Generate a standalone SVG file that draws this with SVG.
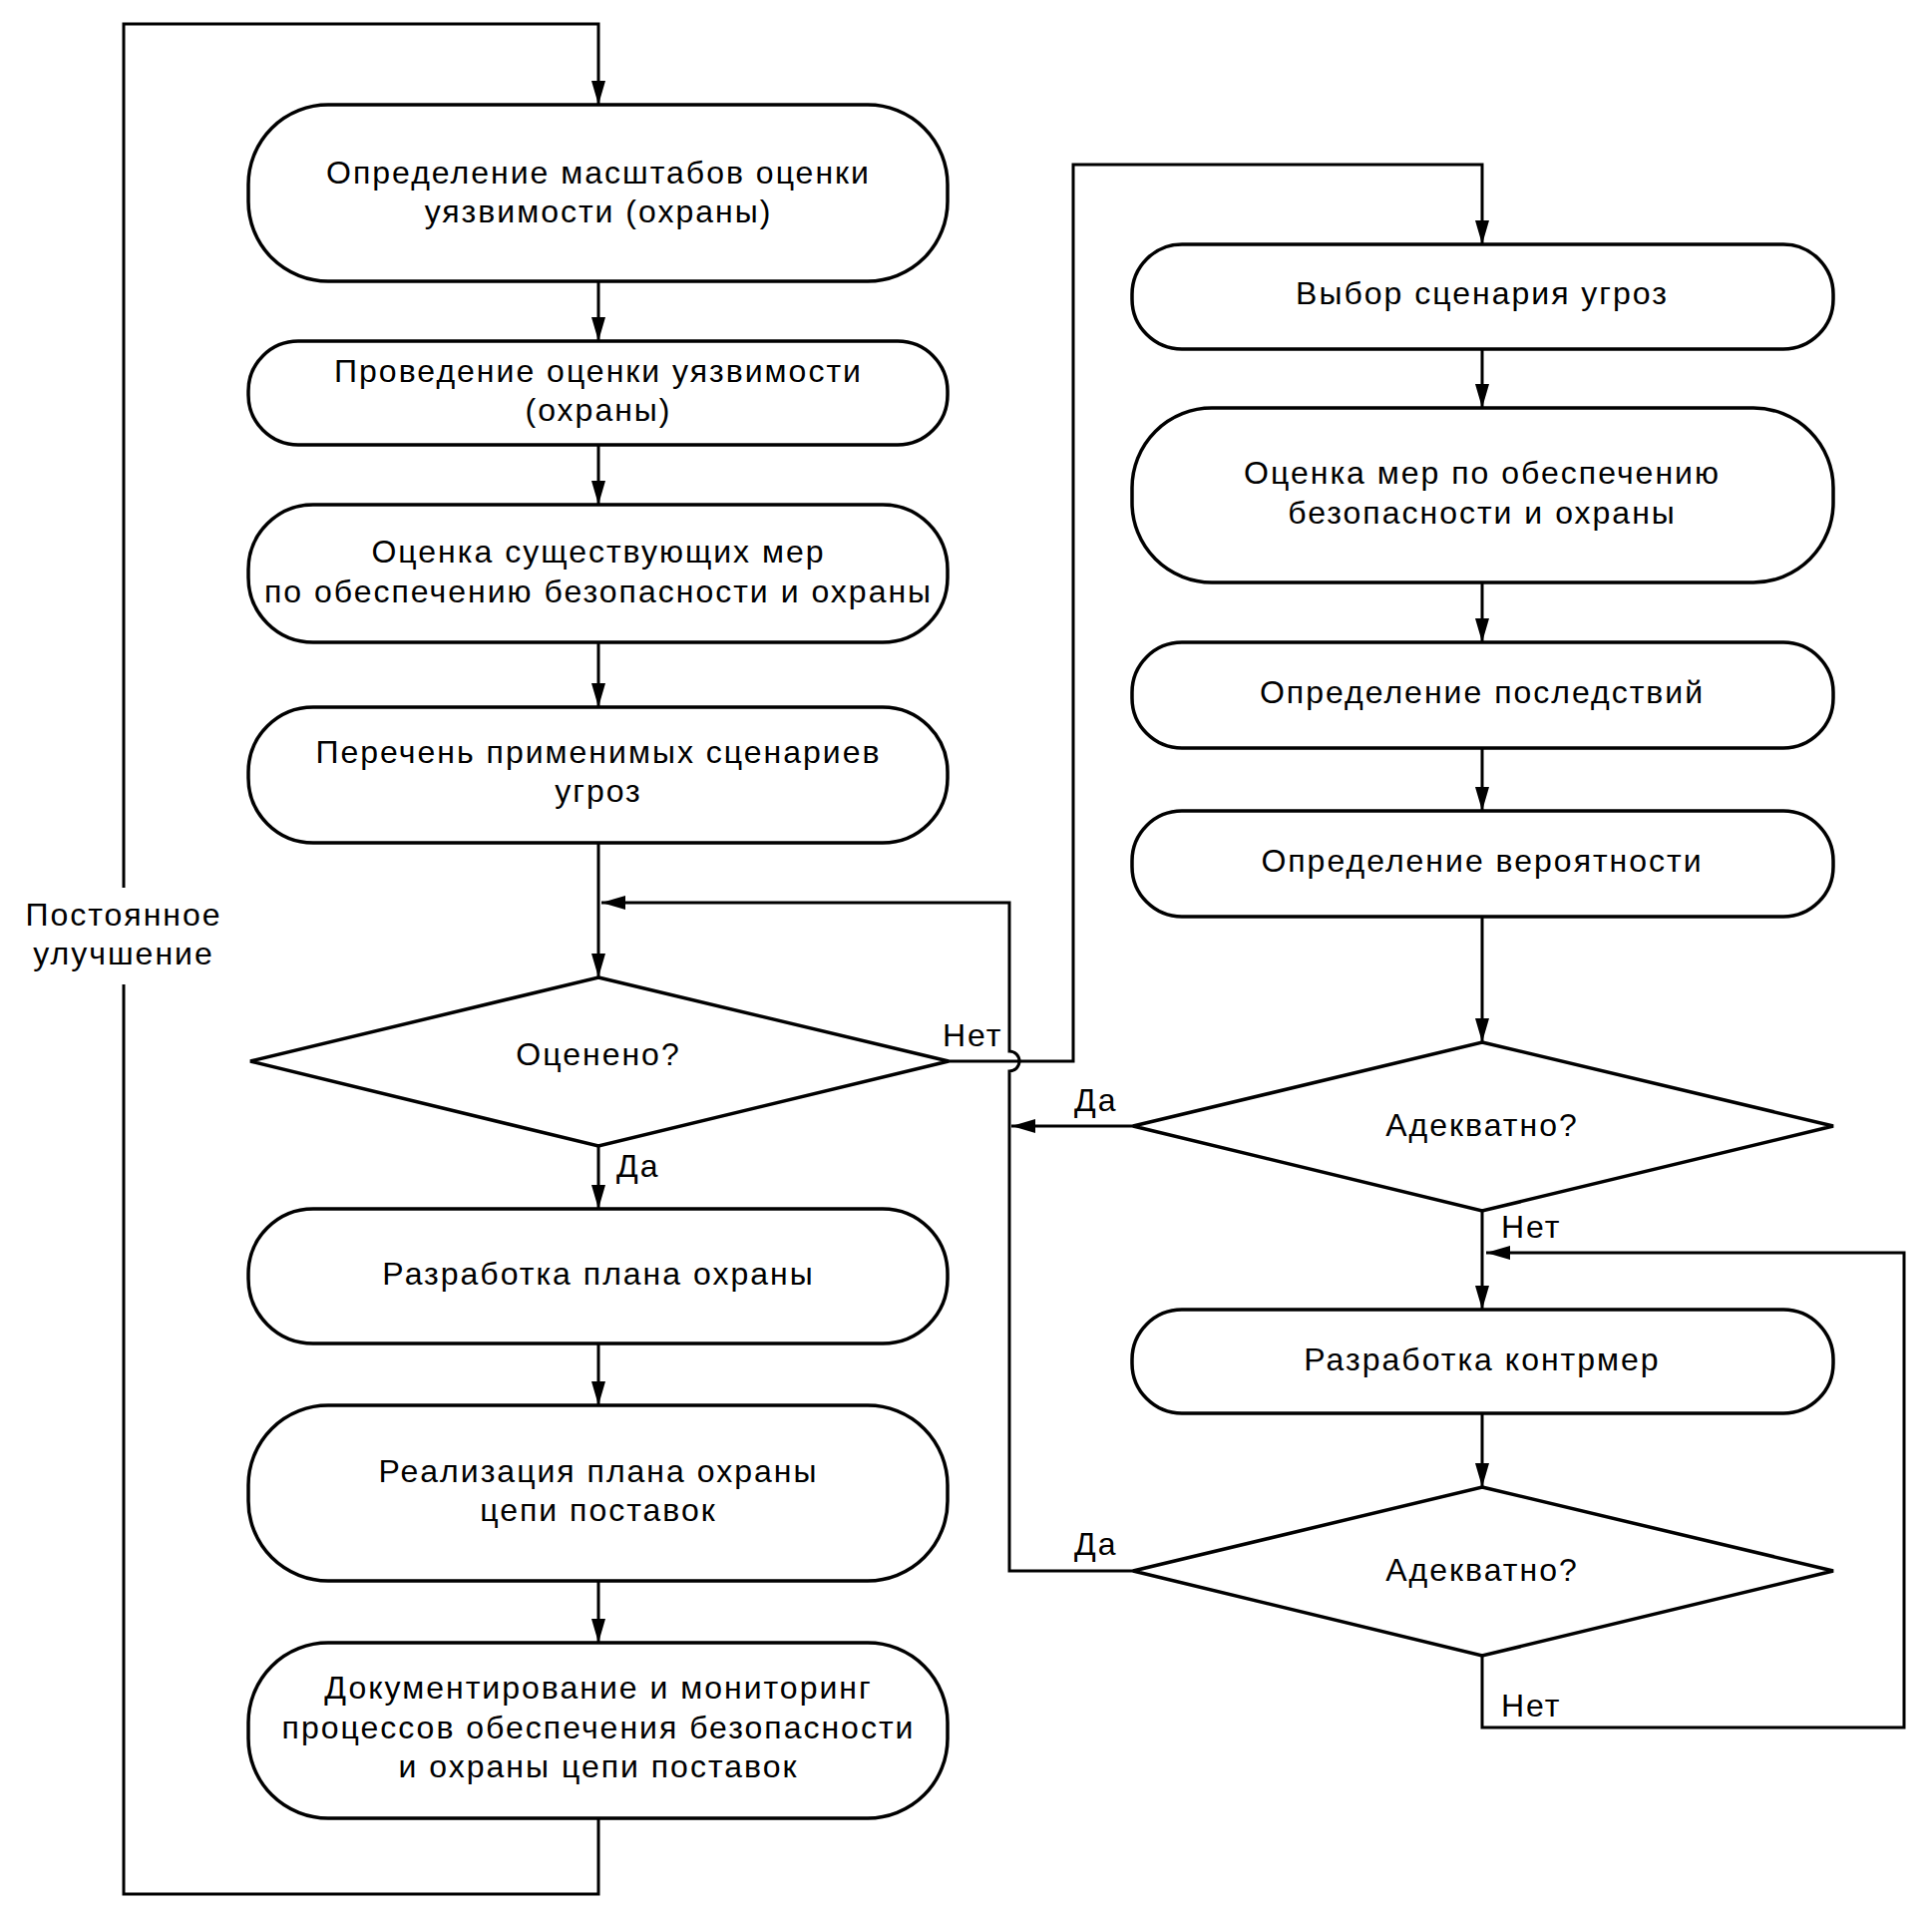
<svg xmlns="http://www.w3.org/2000/svg" width="1937" height="1920" viewBox="0 0 1937 1920">
<defs>
<marker id="arr" viewBox="0 0 24 14" refX="24" refY="7" markerWidth="24" markerHeight="14" markerUnits="userSpaceOnUse" orient="auto">
<path d="M0,0 L24,7 L0,14 z" fill="#000"/>
</marker>
<style>
.box{fill:#fff;stroke:#000;stroke-width:3.5}
.ln{fill:none;stroke:#000;stroke-width:3}
.ar{marker-end:url(#arr)}
text{font-family:"Liberation Sans",Arial,sans-serif;font-size:32px;fill:#000;letter-spacing:2px}
.c{text-anchor:middle}
</style>
</defs>
<rect width="1937" height="1920" fill="#fff"/>
<g id="connectors">
<path class="ln" d="M600,1823 V1899 H124 V987"/>
<path class="ln ar" d="M124,890 V24 H600 V105"/>
<path class="ln ar" d="M600,282 V342"/>
<path class="ln ar" d="M600,446 V506"/>
<path class="ln ar" d="M600,644 V709"/>
<path class="ln ar" d="M600,845 V980"/>
<path class="ln ar" d="M600,1149 V1212"/>
<path class="ln ar" d="M600,1347 V1409"/>
<path class="ln ar" d="M600,1585 V1647"/>
<path class="ln ar" d="M951,1064 H1076 V165 H1486 V245"/>
<path class="ln ar" d="M1486,350 V409"/>
<path class="ln ar" d="M1486,584 V644"/>
<path class="ln ar" d="M1486,750 V813"/>
<path class="ln ar" d="M1486,919 V1045"/>
<path class="ln ar" d="M1136,1129 H1014"/>
<path class="ln ar" d="M1486,1214 V1313"/>
<path class="ln ar" d="M1486,1417 V1491"/>
<path class="ln ar" d="M1136,1575 H1012 V1074 A10,10 0 0 0 1012,1054 V905 H603"/>
<path class="ln ar" d="M1486,1660 V1732 H1909 V1256 H1490"/>
<text x="945" y="1049">Нет</text>
<text x="618" y="1180">Да</text>
<text x="1077" y="1114">Да</text>
<text x="1505" y="1241">Нет</text>
<text x="1077" y="1559">Да</text>
<text x="1505" y="1721">Нет</text>
<text class="c" x="124" y="928">Постоянное</text>
<text class="c" x="124" y="967">улучшение</text>
</g>
<g id="n1"><rect class="box" x="249" y="105" width="701" height="177" rx="80" ry="80"/>
<text class="c" x="600" y="184">Определение масштабов оценки</text><text class="c" x="600" y="223">уязвимости (охраны)</text></g>
<g id="n2"><rect class="box" x="249" y="342" width="701" height="104" rx="50" ry="50"/>
<text class="c" x="600" y="383">Проведение оценки уязвимости</text><text class="c" x="600" y="422">(охраны)</text></g>
<g id="n3"><rect class="box" x="249" y="506" width="701" height="138" rx="65" ry="65"/>
<text class="c" x="600" y="564">Оценка существующих мер</text><text class="c" x="600" y="604">по обеспечению безопасности и охраны</text></g>
<g id="n4"><rect class="box" x="249" y="709" width="701" height="136" rx="65" ry="65"/>
<text class="c" x="600" y="765">Перечень применимых сценариев</text><text class="c" x="600" y="804">угроз</text></g>
<g id="d1"><polygon class="box" points="600,980 951,1064 600,1149 251,1064"/>
<text class="c" x="600" y="1068">Оценено?</text></g>
<g id="n5"><rect class="box" x="249" y="1212" width="701" height="135" rx="65" ry="65"/>
<text class="c" x="600" y="1288">Разработка плана охраны</text></g>
<g id="n6"><rect class="box" x="249" y="1409" width="701" height="176" rx="80" ry="80"/>
<text class="c" x="600" y="1486">Реализация плана охраны</text><text class="c" x="600" y="1525">цепи поставок</text></g>
<g id="n7"><rect class="box" x="249" y="1647" width="701" height="176" rx="80" ry="80"/>
<text class="c" x="600" y="1703">Документирование и мониторинг</text><text class="c" x="600" y="1743">процессов обеспечения безопасности</text><text class="c" x="600" y="1782">и охраны цепи поставок</text></g>
<g id="r1"><rect class="box" x="1135" y="245" width="703" height="105" rx="50" ry="50"/>
<text class="c" x="1486" y="305">Выбор сценария угроз</text></g>
<g id="r2"><rect class="box" x="1135" y="409" width="703" height="175" rx="80" ry="80"/>
<text class="c" x="1486" y="485">Оценка мер по обеспечению</text><text class="c" x="1486" y="525">безопасности и охраны</text></g>
<g id="r3"><rect class="box" x="1135" y="644" width="703" height="106" rx="50" ry="50"/>
<text class="c" x="1486" y="705">Определение последствий</text></g>
<g id="r4"><rect class="box" x="1135" y="813" width="703" height="106" rx="50" ry="50"/>
<text class="c" x="1486" y="874">Определение вероятности</text></g>
<g id="rd1"><polygon class="box" points="1486,1045 1838,1129 1486,1214 1136,1129"/>
<text class="c" x="1486" y="1139">Адекватно?</text></g>
<g id="r5"><rect class="box" x="1135" y="1313" width="703" height="104" rx="50" ry="50"/>
<text class="c" x="1486" y="1374">Разработка контрмер</text></g>
<g id="rd2"><polygon class="box" points="1486,1491 1838,1575 1486,1660 1136,1575"/>
<text class="c" x="1486" y="1585">Адекватно?</text></g>
</svg>
